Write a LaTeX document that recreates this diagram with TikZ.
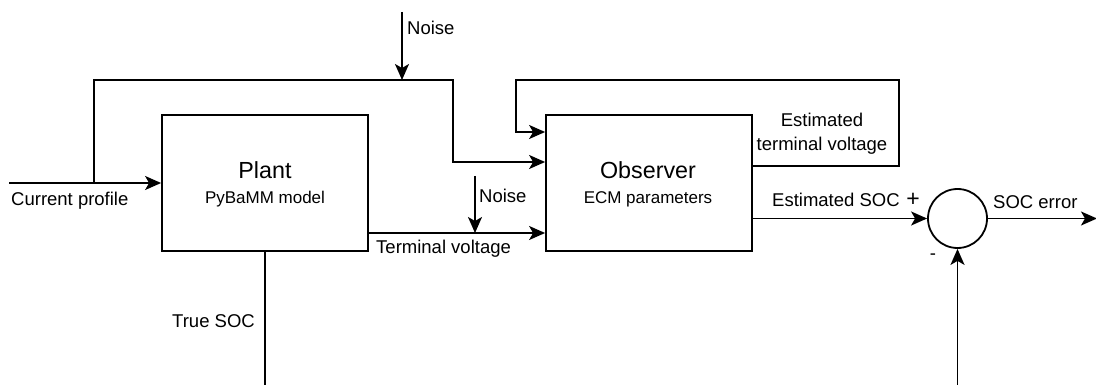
\documentclass[tikz,border=0pt]{standalone}
\usepackage{fontspec}
\setmainfont{Liberation Sans}
\usetikzlibrary{arrows.meta}
\tikzset{
  blk/.style={draw, line width=1.8pt, minimum width=206pt, minimum height=136pt, inner sep=0pt},
  wire/.style={line width=1.8pt, line join=miter},
  arr/.style={wire, -{Stealth[length=16pt,width=14pt,inset=4pt]}},
  lbl/.style={inner sep=0pt, font=\fontsize{18.5}{22}\selectfont},
  ttl/.style={inner sep=0pt, font=\fontsize{23.3}{28}\selectfont},
  sub/.style={inner sep=0pt, font=\fontsize{17}{20}\selectfont},
  sumc/.style={draw, circle, line width=1.8pt, minimum size=59pt, inner sep=0pt}
}
\begin{document}
\begin{tikzpicture}[x=1pt,y=-1pt]
\useasboundingbox (0,0) rectangle (1096,385);
% blocks
\node[blk] (plant) at (265,183) {};
\node[blk] (obs) at (649,183) {};
\node[sumc] (sum) at (957.5,218.5) {};
% helper coordinates
\coordinate (cin) at (9,183);
\coordinate (br) at (94,183);
\coordinate (n1) at (402,12);
\coordinate (n1e) at (402,80);
\coordinate (c162) at (453,162);
\coordinate (fbo) at (752,166);
\coordinate (fbtr) at (899,80);
\coordinate (fbin) at (516,132);
\coordinate (tv) at (368,233);
\coordinate (n2) at (475,176);
\coordinate (n2e) at (475,233);
\coordinate (tsoc) at (265,385);
\coordinate (err) at (1097,218.5);
\coordinate (fb) at (957.5,385);
% connectors
\draw[arr] (cin) -- (plant.west);
\draw[arr] (br) |- (n1e) -| (c162) -- (obs.west |- c162);
\draw[arr] (n1) -- (n1e);
\draw[arr] (fbo) -| (fbtr) -| (fbin) -- (obs.west |- fbin);
\draw[arr] (plant.east |- tv) -- (obs.west |- tv);
\draw[arr] (n2) -- (n2e);
\draw[arr] (obs.east |- sum) -- (sum.west);
\draw[arr] (sum.east) -- (err);
\draw[arr] (fb) -- (sum.south);
\draw[wire] (plant.south) -- (tsoc);
% labels
\node[lbl, anchor=base west] (lcp) at (11,206) {Current profile};
\node[ttl, anchor=base] (lplant) at (265,179) {Plant};
\node[sub, anchor=base] (lpyb) at (265,204) {PyBaMM model};
\node[lbl, anchor=base west] (ln1) at (407,35) {Noise};
\node[ttl, anchor=base] (lobs) at (648,179) {Observer};
\node[sub, anchor=base] (lecm) at (648,204) {ECM parameters};
\node[lbl, anchor=base west] (ln2) at (479,203) {Noise};
\node[lbl, anchor=base west] (ltv) at (376,253.5) {Terminal voltage};
\node[lbl, anchor=base] (let1) at (822,126.7) {Estimated};
\node[lbl, anchor=base] (let2) at (822,150.7) {terminal voltage};
\node[lbl, anchor=base west] (les) at (772,206.7) {Estimated SOC};
\node[lbl, font=\fontsize{23}{25}\selectfont] (lplus) at (913,200) {+};
\node[lbl] (lminus) at (933,257) {-};
\node[lbl, anchor=base west] (lerr) at (993,209) {SOC error};
\node[lbl, anchor=base east] (lts) at (255,327.3) {True SOC};
\end{tikzpicture}
\end{document}
